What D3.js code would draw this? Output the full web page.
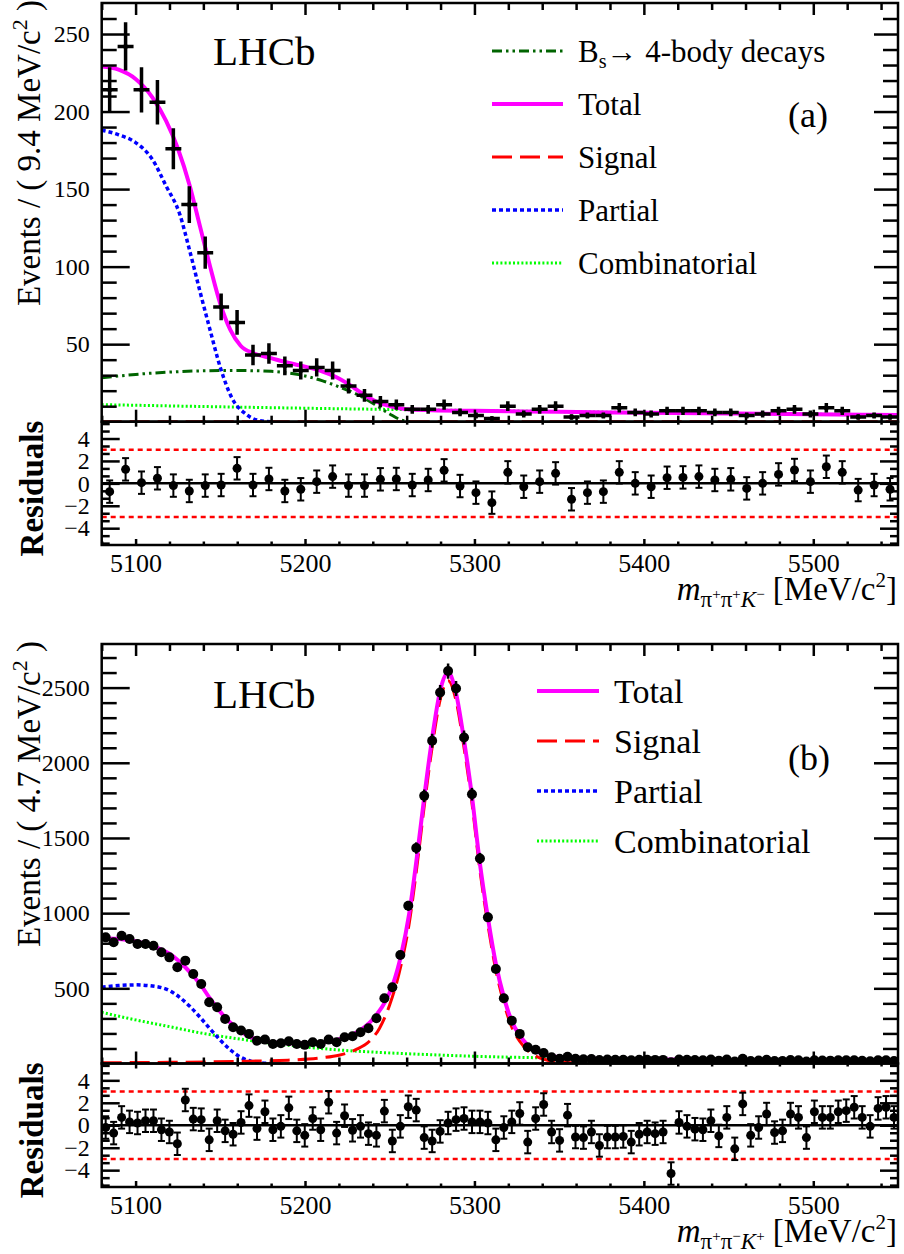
<!DOCTYPE html>
<html>
<head>
<meta charset="utf-8">
<script src="https://cdn.jsdelivr.net/npm/d3@7"></script>
<style>
  body { margin: 0; background: #fff; }
  svg text { font-family: "Liberation Serif", "Times New Roman", serif; }
</style>
</head>
<body>
<div id="chart"></div>
<script>
"use strict";

// x range shared by both fits (MeV/c^2)
var xDomain = [5080, 5550];
var binWidthA = 9.4, binWidthB = 4.7;

// (a) B+ -> pi+ pi+ K-  : counts per 9.4 MeV bin and pulls
var countsA = [214,242,214,206,176,140,109,74,64,43, 44,36,33,35,33,23,17,13,11,8,
               8,11,6,4,2,10,5,8,10,3, 4,4,9,6,5,7,7,7,6,6, 4,5,7,8,5,9,7,3,4,3];
var pullsA = [-0.74,1.25,0.06,0.45,-0.2,-0.68,-0.2,-0.15,1.34,-0.15,
              0.39,-0.68,-0.53,0.15,0.6,-0.2,-0.2,0.36,0.39,-0.15,
              0.3,1.16,-0.24,-0.83,-1.72,0.98,-0.3,0.15,0.89,-1.42,
              -0.83,-0.74,0.98,0,-0.3,0.5,0.53,0.6,0.3,0.36,
              -0.45,0,0.8,1.19,0.15,1.48,0.98,-0.6,-0.15,-0.53];

// (b) B+ -> pi+ pi- K+  : counts per 4.7 MeV bin and pulls
var countsB = [839,806,850,828,795,795,783,740,706,640, 684,595,529,407,374,296,241,219,197,152,
               159,130,135,148,130,124,141,130,159,141, 175,181,208,235,301,434,507,722,1049,1433,
               1780,2146,2467,2610,2494,2168,1791,1364,972,629, 434,285,197,108,92,70,42,31,45,31,
               28,30,23,26,25,25,21,25,25,24, 24,9,27,25,23,22,26,19,26,13,
               31,17,20,25,17,17,23,21,13,22, 20,19,21,21,22,18,15,21,21,17];
var pullsB = [-0.2,-0.7,0.7,0.3,0.2,0.4,0.4,-0.4,-0.6,-1.65,
              2.25,0.55,0.5,-1.3,0.4,-0.5,-0.8,0.25,1.75,-0.3,
              1.2,-0.4,-0.1,1.55,-0.5,-0.9,0.6,-0.4,2.05,-0.7,
              0.85,-0.45,-0.1,-0.75,-0.9,1.26,-1.4,-0.1,1.65,1.35,
              -1.1,-1.4,-0.55,0.2,0.5,0.6,0.3,0.3,0.2,-1.3,
              -0.2,0.3,1.05,-1.5,0.6,1.85,-0.6,-1.35,0.9,-1.05,
              -1.1,-0.6,-1.8,-1.05,-1.05,-1.0,-1.5,-0.8,-0.6,-0.75,
              -0.6,-4.3,0.25,-0.1,-0.35,-0.4,0.4,-0.95,0.7,-2.1,
              1.9,-0.9,-0.2,1.0,-0.65,-0.5,1.0,0.7,-1.1,1.2,
              0.7,0.7,1.2,1.3,1.6,0.7,-0.1,1.5,1.6,0.7];

// fit components, [mass, events per bin]
var totalA = [[5080,229],[5090,227],[5100,221],[5110,209],[5118,194],[5125,176],[5132,152],[5138,126],
              [5144,100],[5150,76],[5156,59],[5162,49],[5170,44],[5180,41],[5190,38],[5200,35.5],
              [5210,32.5],[5218,29],[5226,24],[5234,18],[5242,13],[5250,10],[5260,8],[5275,7.4],
              [5300,7],[5350,6.4],[5400,5.8],[5450,5.3],[5500,4.8],[5550,4.4]];
var signalA = [[5080,0],[5550,0]];
var partialA = [[5080,188],[5090,185],[5100,180],[5110,169],[5118,152],[5126,134],[5132,110],[5138,84],
                [5144,59],[5150,35],[5157,15],[5165,5],[5172,1],[5180,0]];
var combA = [[5080,11],[5150,9.6],[5200,8.7],[5250,7.9],[5300,7.2],[5350,6.5],[5400,5.9],
             [5450,5.3],[5500,4.8],[5550,4.4]];
var bs4bodyA = [[5080,28.3],[5100,30.5],[5120,32],[5140,32.8],[5160,33],[5180,32.5],[5190,31.5],
                [5200,29.5],[5210,26.5],[5220,22.5],[5230,18],[5240,12],[5250,5],[5257,1],[5262,0]];

var totalB = [[5080,835],[5087,830],[5091.75,826],[5096.45,820],[5101.15,810],[5105.85,795],[5110.55,778],
              [5115.25,758],[5119.95,730],[5124.65,690],[5129.35,640],[5134.05,582],[5138.75,518],
              [5143.45,440],[5148.15,370],[5152.85,305],[5157.55,255],[5162.25,212],[5166.95,180],
              [5171.65,160],[5176.35,148],[5181,140],[5186,136],[5190.5,134],[5195,133],[5200,134],
              [5205,136],[5210,140],[5214,147],[5219,158],[5223.8,172],[5228.5,194],[5233,225],
              [5238,270],[5242.6,330],[5247.3,410],[5252,530],[5256.7,720],[5261.4,990],[5266,1370],
              [5270.8,1810],[5275.5,2200],[5280,2490],[5284.5,2600],[5289,2470],[5294,2140],
              [5298.5,1780],[5303,1350],[5308,965],[5312.7,660],[5317.4,440],[5322,282],[5326.8,185],
              [5331.5,122],[5336,85],[5341,62],[5345.6,48],[5352,40],[5365,34],[5400,28],[5450,21],
              [5500,17],[5550,14]];
var signalB = [[5080,5],[5120,8],[5160,14],[5190,22],[5210,38],[5220,55],[5230,92],[5238,148],
               [5244,235],[5250,390],[5256.7,655],[5261.4,925],[5266,1305],[5270.8,1750],[5275.5,2140],
               [5280,2430],[5284.5,2545],[5289,2420],[5294,2090],[5298.5,1735],[5303,1305],[5308,920],
               [5312.7,618],[5317.4,400],[5322,243],[5326.8,147],[5331.5,85],[5336,50],[5341,28],
               [5350,10],[5370,3],[5400,0]];
var partialB = [[5080,507],[5090,518],[5100,523],[5110,515],[5120,485],[5126,440],[5132,380],[5138,308],
                [5144,230],[5150,155],[5156,90],[5162,42],[5168,15],[5174,4],[5180,0]];
var combB = [[5080,340],[5100,290],[5120,245],[5140,200],[5160,165],[5180,135],[5200,110],[5220,90],
             [5240,76],[5260,65],[5280,56],[5300,48],[5350,36],[5400,28],[5450,21],[5500,17],[5550,14]];

// tick values
var xMajor = [5100, 5200, 5300, 5400, 5500];
var yMajorA = [50, 100, 150, 200, 250];
var yMajorB = [500, 1000, 1500, 2000, 2500];
var pullMajor = [-4, -2, 0, 2, 4];

var legendNamesA = ["Bs4", "Total", "Signal", "Partial", "Combinatorial"];
var legendNamesB = ["Total", "Signal", "Partial", "Combinatorial"];

// line styles of the fit components
var styles = {
  Total:         { color: "#ff00ff", width: 4,   dash: null },
  Signal:        { color: "#ff0000", width: 3,   dash: "20,8" },
  Partial:       { color: "#0000ff", width: 3.5, dash: "4,3" },
  Combinatorial: { color: "#00ff00", width: 3,   dash: "2,2.2" },
  Bs4:           { color: "#006400", width: 3,   dash: "10,4,2.5,4,2.5,4" }
};

var W = 904, H = 1254, L = 101.7, R = 898;
var FONT = "Liberation Serif, Times New Roman, serif";

var svg = d3.select("#chart").append("svg")
            .attr("width", W).attr("height", H)
            .attr("font-family", FONT)
            .style("display", "block");
svg.append("rect").attr("width", W).attr("height", H).attr("fill", "#fff");

var x = d3.scaleLinear().domain(xDomain).range([L, R]);
var xMinor = d3.range(xDomain[0], xDomain[1] + 1, 20).filter(function (v) { return v % 100 !== 0; });
var fmt = d3.format("d");

function tickAxis(g, axis, values, size, tr) {
  var a = g.append("g").attr("transform", tr)
           .call(axis.tickValues(values).tickSizeInner(size).tickSizeOuter(0).tickFormat(""));
  a.select(".domain").remove();
  a.selectAll("line").attr("stroke", "#000").attr("stroke-width", 2.5);
}

function labelAxis(g, axis, values, pad, tr, fs) {
  var a = g.append("g").attr("transform", tr)
           .call(axis.tickValues(values).tickSize(0).tickPadding(pad).tickFormat(fmt));
  a.select(".domain").remove();
  a.attr("font-family", FONT).attr("font-size", fs).style("color", "#000");
  return a;
}

// rotated title whose end sits at (bx, topY)
function vTitle(g, bx, topY, fs, weight, parts) {
  var t = g.append("text").attr("font-size", fs).attr("font-weight", weight);
  parts.forEach(function (p) {
    var s = t.append("tspan").text(p.t);
    if (p.fs) s.attr("font-size", p.fs);
    if (p.dy) s.attr("dy", p.dy);
  });
  var len = t.node().getComputedTextLength();
  t.attr("transform", "translate(" + bx + "," + (topY + len) + ") rotate(-90)");
}

var clipId = 0;
function drawPanel(o) {
  var g = svg.append("g");
  var y = d3.scaleLinear().domain(o.yDomain).range([o.mainBot, o.top]);
  var yr = d3.scaleLinear().domain([-5.5, 5.5]).range([o.resBot, o.mainBot]);

  // clip for the main pad
  var cid = "clip" + (clipId++);
  svg.append("clipPath").attr("id", cid).append("rect")
     .attr("x", L).attr("y", o.top).attr("width", R - L).attr("height", o.mainBot - o.top);

  var line = d3.line().x(function (d) { return x(d[0]); })
                      .y(function (d) { return y(d[1]); })
                      .curve(d3.curveMonotoneX);
  var plot = g.append("g").attr("clip-path", "url(#" + cid + ")");

  o.curves.forEach(function (c) {
    var s = styles[c.name];
    plot.append("path").datum(c.data)
        .attr("d", line)
        .attr("fill", "none")
        .attr("stroke", s.color)
        .attr("stroke-width", s.width)
        .attr("stroke-dasharray", s.dash);
  });

  // data points
  var centers = o.counts.map(function (v, i) { return xDomain[0] + o.bw * (i + 0.5); });
  var pts = plot.selectAll("g.pt").data(o.counts).enter().append("g");
  pts.append("line")
     .attr("x1", function (d, i) { return x(centers[i]); })
     .attr("x2", function (d, i) { return x(centers[i]); })
     .attr("y1", function (d) { return y(d - Math.sqrt(d)); })
     .attr("y2", function (d) { return y(d + Math.sqrt(d)); })
     .attr("stroke", "#000").attr("stroke-width", o.ebWidth);
  pts.append("line")
     .attr("x1", function (d, i) { return x(centers[i] - o.bw / 2); })
     .attr("x2", function (d, i) { return x(centers[i] + o.bw / 2); })
     .attr("y1", function (d) { return y(d); })
     .attr("y2", function (d) { return y(d); })
     .attr("stroke", "#000").attr("stroke-width", o.ebWidth);
  pts.append("circle")
     .attr("cx", function (d, i) { return x(centers[i]); })
     .attr("cy", function (d) { return y(d); })
     .attr("r", o.markR).attr("fill", "#000");

  // residual pad
  [3, -3].forEach(function (v) {
    g.append("line").attr("x1", L).attr("x2", R).attr("y1", yr(v)).attr("y2", yr(v))
     .attr("stroke", "#ff0000").attr("stroke-width", 2.5).attr("stroke-dasharray", "5,4");
  });
  g.append("line").attr("x1", L).attr("x2", R).attr("y1", yr(0)).attr("y2", yr(0))
   .attr("stroke", "#000").attr("stroke-width", 2.5);

  var rp = g.selectAll("g.rp").data(o.pulls).enter().append("g");
  rp.append("line")
    .attr("x1", function (d, i) { return x(centers[i]); })
    .attr("x2", function (d, i) { return x(centers[i]); })
    .attr("y1", function (d) { return yr(d - 1); })
    .attr("y2", function (d) { return yr(d + 1); })
    .attr("stroke", "#000").attr("stroke-width", 2);
  [-1, 1].forEach(function (s) {
    rp.append("line")
      .attr("x1", function (d, i) { return x(centers[i]) - 3.5; })
      .attr("x2", function (d, i) { return x(centers[i]) + 3.5; })
      .attr("y1", function (d) { return yr(d + s); })
      .attr("y2", function (d) { return yr(d + s); })
      .attr("stroke", "#000").attr("stroke-width", 2);
  });
  rp.append("circle")
    .attr("cx", function (d, i) { return x(centers[i]); })
    .attr("cy", function (d) { return yr(d); })
    .attr("r", 4.5).attr("fill", "#000");

  // ticks: main pad
  tickAxis(g, d3.axisLeft(y), o.yMajor, -28, "translate(" + L + ",0)");
  tickAxis(g, d3.axisLeft(y), o.yMinor, -15, "translate(" + L + ",0)");
  tickAxis(g, d3.axisRight(y), o.yMajor, -24, "translate(" + R + ",0)");
  tickAxis(g, d3.axisRight(y), o.yMinor, -15, "translate(" + R + ",0)");
  tickAxis(g, d3.axisTop(x), xMajor, -12, "translate(0," + o.top + ")");
  tickAxis(g, d3.axisTop(x), xMinor, -7, "translate(0," + o.top + ")");
  tickAxis(g, d3.axisBottom(x), xMajor, -12, "translate(0," + o.mainBot + ")");
  tickAxis(g, d3.axisBottom(x), xMinor, -6, "translate(0," + o.mainBot + ")");
  // ticks: residual pad
  var pullMinor = d3.range(-8, 9).map(function (k) { return k * 2 / 3; })
                    .filter(function (v) { return Math.abs(v - Math.round(v / 2) * 2) > 0.01; });
  tickAxis(g, d3.axisLeft(yr), pullMajor, -18, "translate(" + L + ",0)");
  tickAxis(g, d3.axisLeft(yr), pullMinor, -8, "translate(" + L + ",0)");
  tickAxis(g, d3.axisRight(yr), pullMajor, -18, "translate(" + R + ",0)");
  tickAxis(g, d3.axisRight(yr), pullMinor, -8, "translate(" + R + ",0)");
  tickAxis(g, d3.axisTop(x), xMajor, -5, "translate(0," + o.mainBot + ")");
  tickAxis(g, d3.axisTop(x), xMinor, -3, "translate(0," + o.mainBot + ")");
  tickAxis(g, d3.axisBottom(x), xMajor, -6, "translate(0," + o.resBot + ")");
  tickAxis(g, d3.axisBottom(x), xMinor, -3.5, "translate(0," + o.resBot + ")");

  // frames
  [[o.top, o.mainBot], [o.mainBot, o.resBot]].forEach(function (f) {
    g.append("rect").attr("x", L).attr("y", f[0]).attr("width", R - L).attr("height", f[1] - f[0])
     .attr("fill", "none").attr("stroke", "#000").attr("stroke-width", 2.5);
  });

  // labels
  labelAxis(g, d3.axisLeft(y), o.yMajor, 12, "translate(" + L + ",0)", 24);
  labelAxis(g, d3.axisLeft(yr), pullMajor, 12, "translate(" + L + ",0)", 24);
  labelAxis(g, d3.axisBottom(x), xMajor, 9, "translate(0," + o.resBot + ")", 26);

  // y titles
  vTitle(g, 40, o.top - 3, 33, "normal", [
    { t: "Events / ( " + o.binText + " MeV/c" },
    { t: "2", fs: 22, dy: -13 },
    { t: "\u00a0)", dy: 13 }
  ]);
  vTitle(g, 43, o.mainBot - 1, 33, "bold", [{ t: "Residuals" }]);

  // x title
  var xt = g.append("text").attr("x", 897).attr("y", o.resBot + 55)
            .attr("text-anchor", "end").attr("font-size", 33);
  xt.append("tspan").attr("font-style", "italic").text("m");
  o.sub.forEach(function (p, k) {
    xt.append("tspan").attr("font-size", 23).attr("dy", k === 0 ? 7 : 8)
      .attr("font-style", p[0] === "K" ? "italic" : null).text(p[0]);
    xt.append("tspan").attr("font-size", 15).attr("dy", -8).text(p[1]);
  });
  xt.append("tspan").attr("dy", 1).text("\u00a0[MeV/c");
  xt.append("tspan").attr("font-size", 21).attr("dy", -13).text("2");
  xt.append("tspan").attr("dy", 13).text("]");

  // LHCb and panel tag
  g.append("text").attr("x", 213).attr("y", o.top + o.lhcbDy).attr("font-size", 41).text("LHCb");
  g.append("text").attr("x", 788).attr("y", o.top + o.tagDy).attr("font-size", 36).text(o.tag);

  // legend
  o.legend.forEach(function (name, k) {
    var s = styles[name];
    var ly = o.top + o.legY0 + k * o.legStep;
    g.append("line").attr("x1", o.legX1).attr("x2", o.legX2).attr("y1", ly).attr("y2", ly)
     .attr("stroke", s.color).attr("stroke-width", s.width).attr("stroke-dasharray", s.dash);
    var t = g.append("text").attr("x", o.legX2 + 15).attr("y", ly).attr("dy", "0.35em")
             .attr("font-size", o.legFs);
    if (name === "Bs4") {
      t.append("tspan").text("B");
      t.append("tspan").attr("font-size", o.legFs * 0.65).attr("dy", 6).text("s");
      t.append("tspan").attr("dy", -6).text("\u2192 4-body decays");
    } else {
      t.text(name);
    }
  });
}

drawPanel({
  top: 3, mainBot: 421.7, resBot: 545,
  yDomain: [0, 270], yMajor: yMajorA, yMinor: d3.range(10, 270, 10).filter(function (v) { return v % 50 !== 0; }),
  counts: countsA, pulls: pullsA, bw: binWidthA, ebWidth: 3.5, markR: 2.5,
  curves: [{ name: "Combinatorial", data: combA }, { name: "Bs4", data: bs4bodyA },
           { name: "Partial", data: partialA }, { name: "Signal", data: signalA },
           { name: "Total", data: totalA }],
  binText: "9.4", sub: [["\u03c0", "+"], ["\u03c0", "+"], ["K", "\u2212"]],
  tag: "(a)", lhcbDy: 62, tagDy: 124,
  legend: legendNamesA, legX1: 492, legX2: 563, legY0: 48, legStep: 53, legFs: 31
});

drawPanel({
  top: 644, mainBot: 1063.5, resBot: 1187,
  yDomain: [0, 2790], yMajor: yMajorB, yMinor: d3.range(100, 2790, 100).filter(function (v) { return v % 500 !== 0; }),
  counts: countsB, pulls: pullsB, bw: binWidthB, ebWidth: 2.5, markR: 5,
  curves: [{ name: "Combinatorial", data: combB }, { name: "Partial", data: partialB },
           { name: "Signal", data: signalB }, { name: "Total", data: totalB }],
  binText: "4.7", sub: [["\u03c0", "+"], ["\u03c0", "\u2212"], ["K", "+"]],
  tag: "(b)", lhcbDy: 64, tagDy: 126,
  legend: legendNamesB, legX1: 537, legX2: 599, legY0: 47, legStep: 50, legFs: 34
});
</script>
</body>
</html>
